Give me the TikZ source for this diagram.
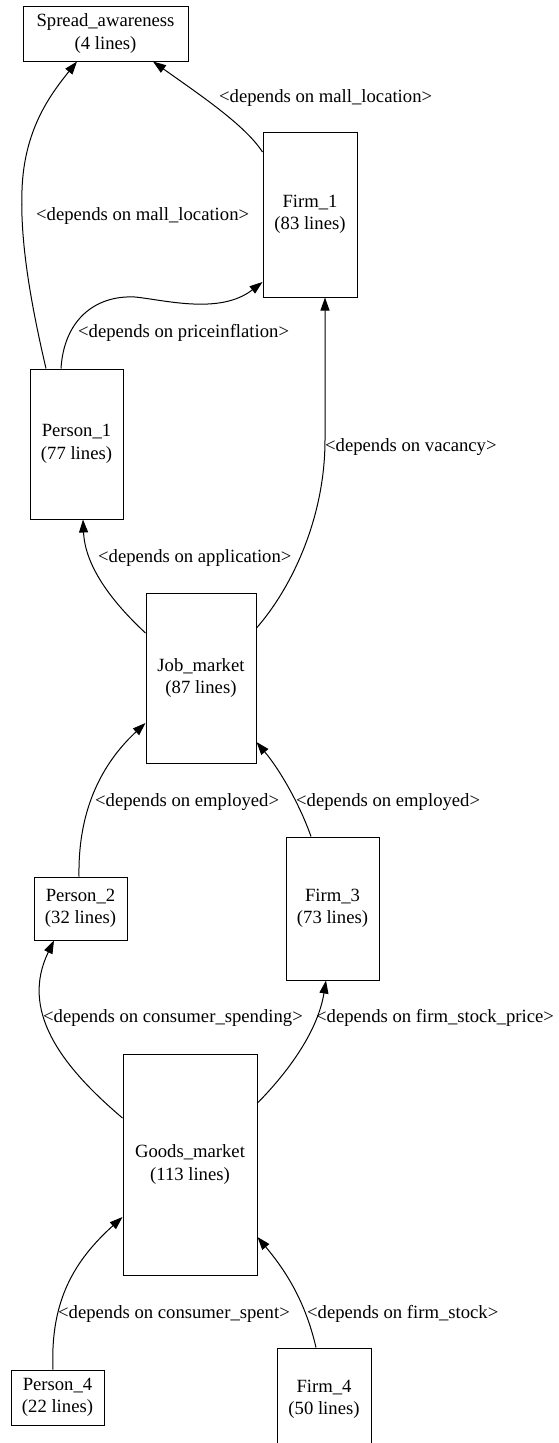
\documentclass[tikz,border=0pt]{standalone}
\usepackage{fontspec}
\setmainfont{Liberation Serif}
\usetikzlibrary{arrows.meta,calc}
\begin{document}
\begin{tikzpicture}[x=1pt,y=-1pt,
  every node/.style={font=\fontsize{18.67pt}{22.4pt}\selectfont},
  box/.style={draw, line width=1pt, inner sep=0pt, align=center, minimum width=#1},
  lbl/.style={anchor=west, inner sep=0pt},
  edge/.style={line width=1pt, -{Triangle[length=13pt,width=9pt]}}]
\useasboundingbox (0,0) rectangle (559,1443);
% nodes
\node[box=165pt, minimum height=55pt]  (sa) at (105.5,33.5) {Spread\_awareness\\(4 lines)};
\node[box=94pt,  minimum height=165pt] (f1) at (310,214.5) {Firm\_1\\(83 lines)};
\node[box=93pt,  minimum height=150pt] (p1) at (76.5,444) {Person\_1\\(77 lines)};
\node[box=110pt, minimum height=170pt] (jm) at (201,678) {Job\_market\\(87 lines)};
\node[box=93pt,  minimum height=63pt]  (p2) at (80.5,908.5) {Person\_2\\(32 lines)};
\node[box=93pt,  minimum height=143pt] (f3) at (332.5,908.5) {Firm\_3\\(73 lines)};
\node[box=134pt, minimum height=221pt] (gm) at (190,1164.5) {Goods\_market\\(113 lines)};
\node[box=93pt,  minimum height=55pt]  (p4) at (57.5,1397.5) {Person\_4\\(22 lines)};
\node[box=94pt,  minimum height=102pt] (f4) at (324,1399) {Firm\_4\\(50 lines)};
% edges
\draw[edge] ([xshift=-30.5pt]p1.north) .. controls (30,300) and (20,240) .. (22,190)
   .. controls (24,130) and (50,95) .. ([xshift=-28.5pt]sa.south);
\draw[edge] ([yshift=62.5pt]f1.west) .. controls (245,125) and (200,95) .. ([xshift=47.5pt]sa.south);
\draw[edge] ([xshift=-15.5pt]p1.north) .. controls (64,320) and (95,295) .. (135,297)
   .. controls (165,300) and (220,315) .. ([yshift=-67.5pt]f1.west);
\draw[edge] ([yshift=45pt]jm.west) .. controls (110,600) and (85,565) .. ([xshift=6.5pt]p1.south);
\draw[edge] ([yshift=50pt]jm.east) .. controls (290,590) and (325,520) .. (325,440)
   .. controls (325,380) and (325,330) .. ([xshift=15pt]f1.south);
\draw[edge] ([xshift=-1.5pt]p2.north) .. controls (78,820) and (95,770) .. ([yshift=-45pt]jm.west);
\draw[edge] ([xshift=-21.5pt]f3.north) .. controls (300,805) and (280,770) .. ([yshift=-64pt]jm.east);
\draw[edge] ([yshift=46.5pt]gm.west) .. controls (60,1065) and (20,1010) .. ([xshift=-26.5pt]p2.south);
\draw[edge] ([yshift=61.5pt]gm.east) .. controls (290,1070) and (318,1030) .. ([xshift=-6.5pt]f3.south);
\draw[edge] ([xshift=-4.5pt]p4.north) .. controls (50,1300) and (75,1260) .. ([yshift=-52.5pt]gm.west);
\draw[edge] ([xshift=-8pt]f4.north) .. controls (305,1300) and (285,1270) .. ([yshift=-72.5pt]gm.east);
% labels
\node[lbl] (l1)  at (36,216)   {<depends on mall\_location>};
\node[lbl] (l2)  at (219,98)   {<depends on mall\_location>};
\node[lbl] (l3)  at (78,333)   {<depends on priceinflation>};
\node[lbl] (l4)  at (325,447)  {<depends on vacancy>};
\node[lbl] (l5)  at (98,558)   {<depends on application>};
\node[lbl] (l6)  at (95,802)   {<depends on employed>};
\node[lbl] (l7)  at (296,802)  {<depends on employed>};
\node[lbl] (l8)  at (43,1018)  {<depends on consumer\_spending>};
\node[lbl] (l9)  at (316,1018) {<depends on firm\_stock\_price>};
\node[lbl] (l10) at (58,1314)  {<depends on consumer\_spent>};
\node[lbl] (l11) at (307,1314) {<depends on firm\_stock>};
\end{tikzpicture}
\end{document}
